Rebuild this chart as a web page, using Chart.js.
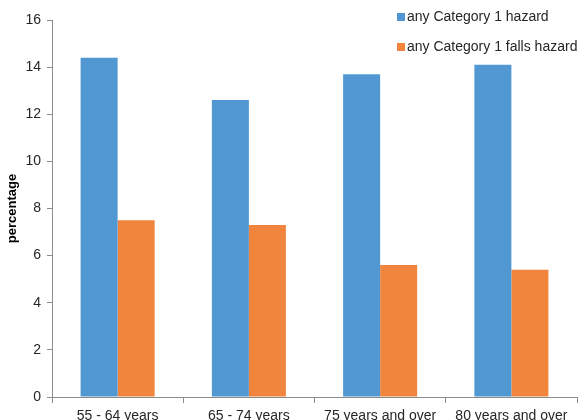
<!DOCTYPE html>
<html>
<head>
<meta charset="utf-8">
<script src="https://cdn.jsdelivr.net/npm/chart.js@4"></script>
<style>
  html, body { margin: 0; padding: 0; background: #fff; overflow: hidden; }
  #wrap { width: 581px; height: 420px; position: relative; }
</style>
</head>
<body>
<div id="wrap"><canvas id="chart"></canvas></div>
<script>
// Age groups and shares of households with hazards (%)
const categories = ['55 - 64 years', '65 - 74 years', '75 years and over', '80 years and over'];
const anyHazard = [14.4, 12.6, 13.7, 14.1];
const fallsHazard = [7.5, 7.3, 5.6, 5.4];
const seriesNames = ['any Category 1 hazard', 'any Category 1 falls hazard'];
const yTicks = [0, 2, 4, 6, 8, 10, 12, 14, 16];

const FONT = '"Liberation Sans", Arial, sans-serif';
const AXIS_GREY = '#8c8c8c';
const TEXT = '#262626';

// Legend drawn as a plain list in the upper right of the canvas
const cornerLegend = {
  id: 'cornerLegend',
  afterDraw(chart) {
    const ctx = chart.ctx;
    ctx.save();
    ctx.font = '14px ' + FONT;
    ctx.textBaseline = 'middle';
    ctx.textAlign = 'left';
    const rows = [17, 47];
    chart.data.datasets.forEach((ds, i) => {
      const y = rows[i];
      ctx.fillStyle = ds.backgroundColor;
      ctx.fillRect(397, y - 4, 8, 8);
      ctx.fillStyle = TEXT;
      ctx.fillText(ds.label, 407, y);
    });
    ctx.restore();
  }
};

new Chart(document.getElementById('chart'), {
  type: 'bar',
  data: {
    labels: categories,
    datasets: [
      { label: seriesNames[0], data: anyHazard, backgroundColor: '#5198d3' },
      { label: seriesNames[1], data: fallsHazard, backgroundColor: '#f2853d' }
    ]
  },
  options: {
    responsive: true,
    maintainAspectRatio: false,
    animation: false,
    layout: { padding: { top: 20, right: 4, left: 0, bottom: 0 } },
    plugins: { legend: { display: false }, tooltip: { enabled: false } },
    datasets: { bar: { categoryPercentage: 0.564, barPercentage: 1.0 } },
    scales: {
      x: {
        offset: true,
        grid: { display: true, offset: true, drawOnChartArea: false, drawTicks: true, tickLength: 6, color: AXIS_GREY },
        border: { display: true, color: AXIS_GREY, width: 1 },
        ticks: { font: { family: FONT, size: 14 }, color: TEXT, padding: 5, maxRotation: 0, autoSkip: false },
        afterFit(scale) { scale.height = 23; }
      },
      y: {
        min: 0,
        max: 16,
        afterBuildTicks(scale) { scale.ticks = yTicks.map(v => ({ value: v })); },
        grid: { display: true, drawOnChartArea: false, drawTicks: true, tickLength: 5, color: AXIS_GREY },
        border: { display: true, color: AXIS_GREY, width: 1 },
        ticks: { font: { family: FONT, size: 14 }, color: TEXT, padding: 6 },
        title: { display: true, text: 'percentage', font: { family: FONT, size: 13, weight: 'bold' }, color: '#000', padding: { top: 5, bottom: 0 } },
        afterFit(scale) { scale.width = 52; }
      }
    }
  },
  plugins: [cornerLegend]
});
</script>
</body>
</html>
